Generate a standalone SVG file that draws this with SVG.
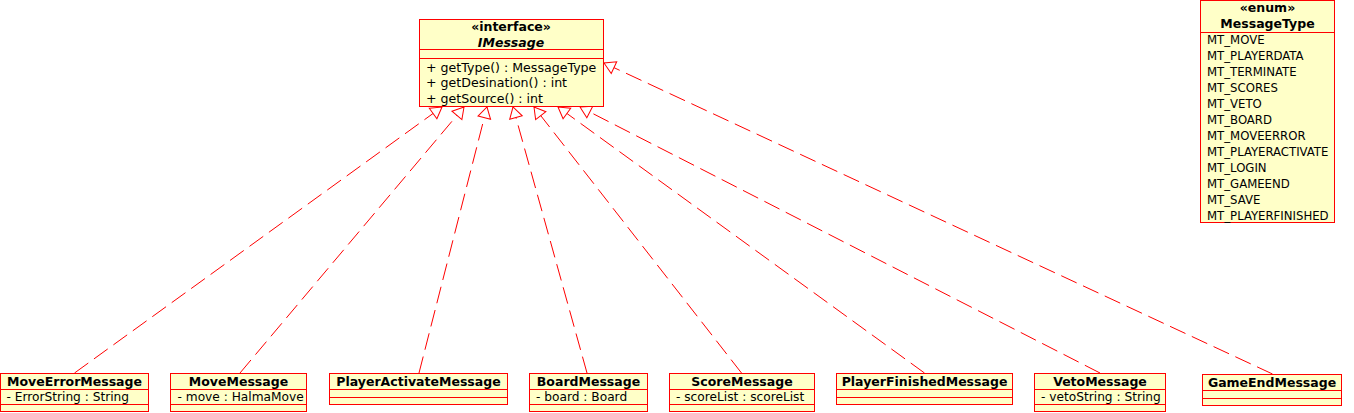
<svg xmlns="http://www.w3.org/2000/svg" width="1354" height="413" viewBox="0 0 1354 413">
<style>
.box{fill:#ffffc8;stroke:#ff0000;stroke-width:1}
.sep{stroke:#ff0000;stroke-width:1;fill:none}
.t{font-family:"DejaVu Sans","Liberation Sans",sans-serif;font-size:12.2px;fill:#000}
.op{font-size:12.6px}
.b{font-family:"DejaVu Sans","Liberation Sans",sans-serif;font-size:12.5px;font-weight:bold;fill:#000;text-anchor:middle}
.bi{font-style:italic}
.lit{font-family:"DejaVu Sans Condensed","DejaVu Sans","Liberation Sans",sans-serif;font-stretch:condensed;font-size:13px;fill:#000}
.conn{stroke:#ff0000;stroke-width:1;fill:none;stroke-dasharray:17 7}
</style>
<defs>
<marker id="tri" markerUnits="userSpaceOnUse" markerWidth="14" markerHeight="14" refX="11" refY="6.5" orient="auto" overflow="visible">
<path d="M0,0 L11,6.5 L0,13 Z" fill="#ffffff" stroke="#ff0000" stroke-width="1" stroke-dasharray="none"/>
</marker>
</defs>
<g id="connectors">
<path class="conn" d="M74.5,373 L442,107" marker-end="url(#tri)"/>
<path class="conn" d="M240,373 L464,107" marker-end="url(#tri)"/>
<path class="conn" d="M419,373 L487,107" marker-end="url(#tri)"/>
<path class="conn" d="M587,373 L513,107" marker-end="url(#tri)"/>
<path class="conn" d="M741.5,373 L534,107" marker-end="url(#tri)"/>
<path class="conn" d="M924.5,373 L558,107" marker-end="url(#tri)"/>
<path class="conn" d="M1100,373 L580,107" marker-end="url(#tri)"/>
<path class="conn" d="M1272.5,374 L604,63" marker-end="url(#tri)"/>
</g>
<g id="IMessage">
<rect class="box" x="419.5" y="19.5" width="184" height="87"/>
<path class="sep" d="M419.5,49.5 H603.5 M419.5,58.5 H603.5"/>
<text class="b" x="511" y="30.5">«interface»</text>
<text class="b bi" x="511" y="46.5">IMessage</text>
<text class="t op" x="426" y="71.5">+ getType() : MessageType</text>
<text class="t op" x="426" y="87">+ getDesination() : int</text>
<text class="t op" x="426" y="102.5">+ getSource() : int</text>
</g>
<g id="MessageType">
<rect class="box" x="1200.5" y="0.5" width="134" height="222"/>
<path class="sep" d="M1200.5,32.5 H1334.5"/>
<text class="b" x="1267.5" y="11.5">«enum»</text>
<text class="b" x="1267.5" y="27.5">MessageType</text>
<text class="lit" x="1207" y="44.3">MT_MOVE</text>
<text class="lit" x="1207" y="60.3">MT_PLAYERDATA</text>
<text class="lit" x="1207" y="76.3">MT_TERMINATE</text>
<text class="lit" x="1207" y="92.3">MT_SCORES</text>
<text class="lit" x="1207" y="108.3">MT_VETO</text>
<text class="lit" x="1207" y="124.3">MT_BOARD</text>
<text class="lit" x="1207" y="140.3">MT_MOVEERROR</text>
<text class="lit" x="1207" y="156.3">MT_PLAYERACTIVATE</text>
<text class="lit" x="1207" y="172.3">MT_LOGIN</text>
<text class="lit" x="1207" y="188.3">MT_GAMEEND</text>
<text class="lit" x="1207" y="204.3">MT_SAVE</text>
<text class="lit" x="1207" y="220.3">MT_PLAYERFINISHED</text>
</g>
<g id="MoveErrorMessage">
<rect class="box" x="0.5" y="373.5" width="148" height="38"/>
<path class="sep" d="M0.5,389.5 H148.5 M0.5,404.5 H148.5"/>
<text class="b" x="74.5" y="385.5">MoveErrorMessage</text>
<text class="t" x="6.5" y="400.5">- ErrorString : String</text>
</g>
<g id="MoveMessage">
<rect class="box" x="170.5" y="373.5" width="136" height="38"/>
<path class="sep" d="M170.5,389.5 H306.5 M170.5,404.5 H306.5"/>
<text class="b" x="238.5" y="385.5">MoveMessage</text>
<text class="t" x="177.5" y="400.5">- move : HalmaMove</text>
</g>
<g id="PlayerActivateMessage">
<rect class="box" x="329.5" y="373.5" width="178" height="31"/>
<path class="sep" d="M329.5,389.5 H507.5 M329.5,397.5 H507.5"/>
<text class="b" x="418.5" y="385.5">PlayerActivateMessage</text>
</g>
<g id="BoardMessage">
<rect class="box" x="529.5" y="373.5" width="118" height="38"/>
<path class="sep" d="M529.5,389.5 H647.5 M529.5,404.5 H647.5"/>
<text class="b" x="588.5" y="385.5">BoardMessage</text>
<text class="t" x="536" y="400.5">- board : Board</text>
</g>
<g id="ScoreMessage">
<rect class="box" x="669.5" y="373.5" width="145" height="38"/>
<path class="sep" d="M669.5,389.5 H814.5 M669.5,404.5 H814.5"/>
<text class="b" x="742" y="385.5">ScoreMessage</text>
<text class="t" x="676" y="400.5">- scoreList : scoreList</text>
</g>
<g id="PlayerFinishedMessage">
<rect class="box" x="836.5" y="373.5" width="176" height="31"/>
<path class="sep" d="M836.5,389.5 H1012.5 M836.5,397.5 H1012.5"/>
<text class="b" x="924.5" y="385.5">PlayerFinishedMessage</text>
</g>
<g id="VetoMessage">
<rect class="box" x="1034.5" y="373.5" width="131" height="38"/>
<path class="sep" d="M1034.5,389.5 H1165.5 M1034.5,404.5 H1165.5"/>
<text class="b" x="1100" y="385.5">VetoMessage</text>
<text class="t" x="1041" y="400.5">- vetoString : String</text>
</g>
<g id="GameEndMessage">
<rect class="box" x="1202.5" y="374.5" width="139" height="31"/>
<path class="sep" d="M1202.5,390.5 H1341.5 M1202.5,398.5 H1341.5"/>
<text class="b" x="1272" y="386.5">GameEndMessage</text>
</g>
</svg>
